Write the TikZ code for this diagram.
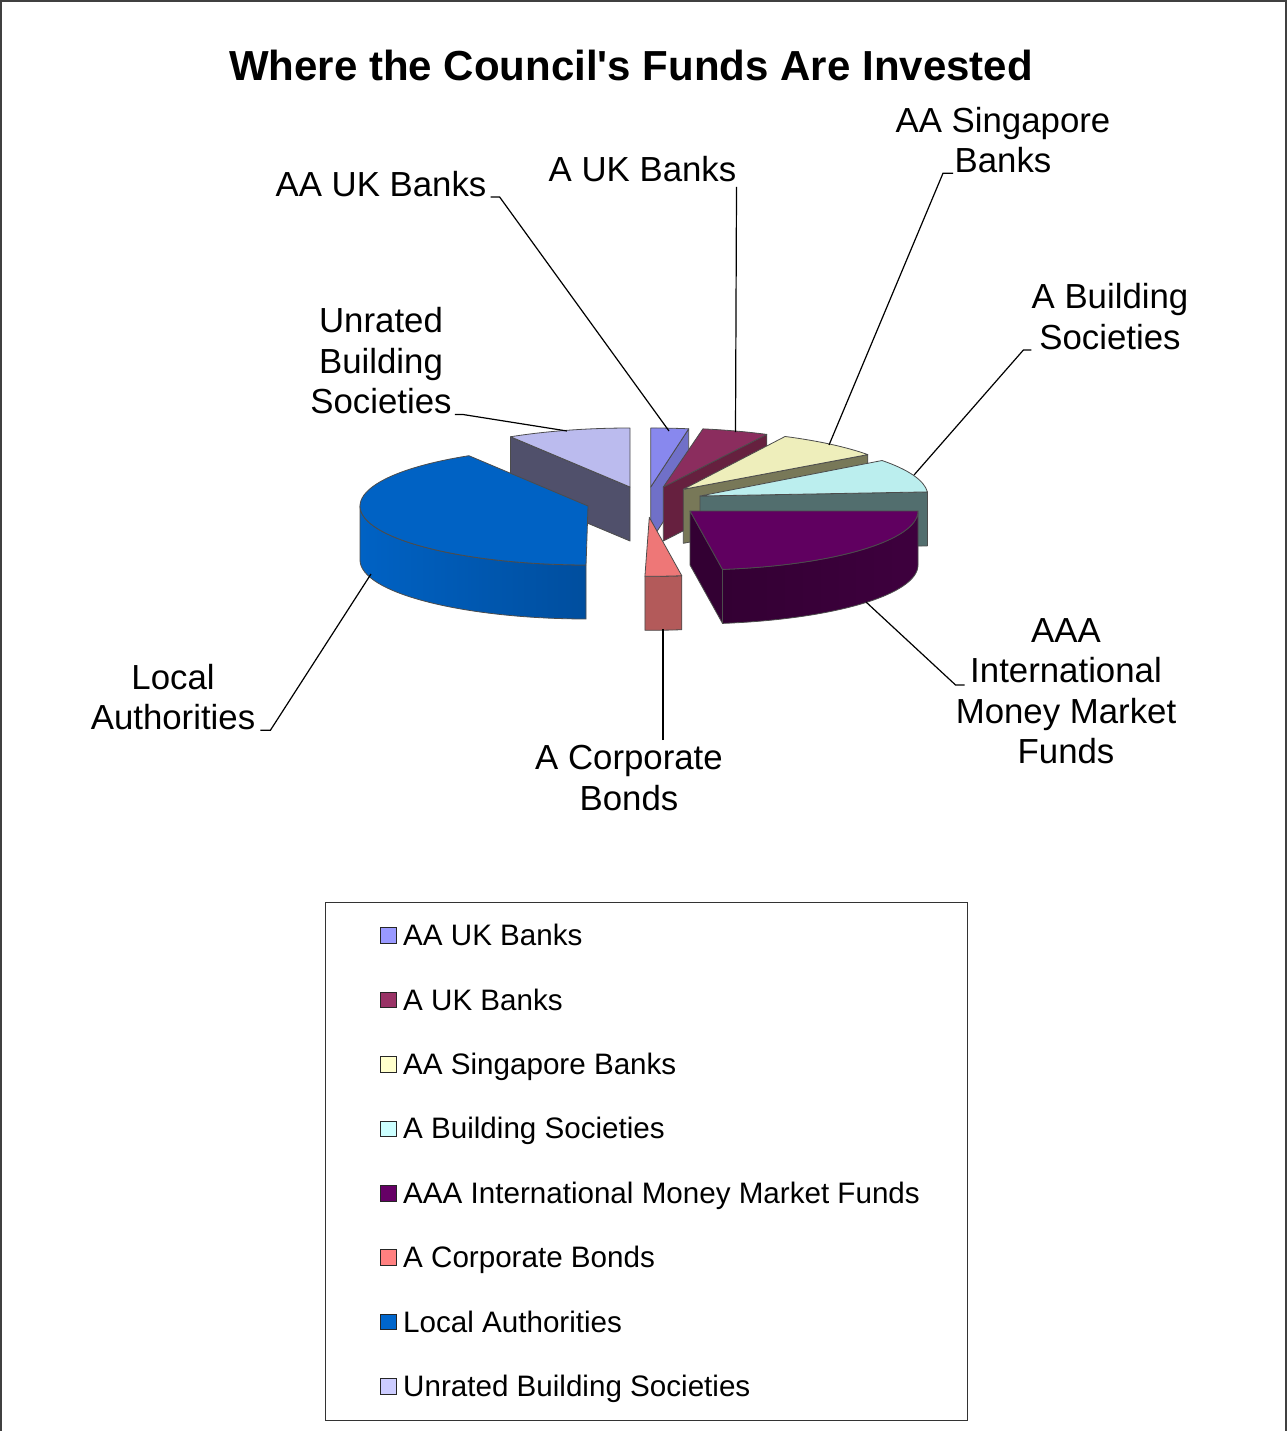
\documentclass[tikz,border=0pt]{standalone}
\usepackage{fontspec}
\setmainfont{Liberation Sans}[Ligatures=TeXOff]
\definecolor{u1}{HTML}{BBBBEE}\definecolor{u2}{HTML}{50506B}
\definecolor{p1}{HTML}{8888EE}\definecolor{p2}{HTML}{7070C8}
\definecolor{m1}{HTML}{8B2D5E}\definecolor{m2}{HTML}{66203F}
\definecolor{y1}{HTML}{EEEEBB}\definecolor{y2}{HTML}{787858}
\definecolor{c1}{HTML}{BBEEEE}\definecolor{c2}{HTML}{526E6E}
\definecolor{v1}{HTML}{600060}\definecolor{v2}{HTML}{330033}\definecolor{v3}{HTML}{3E003E}
\definecolor{k1}{HTML}{EE7777}\definecolor{k2}{HTML}{B35A5A}
\definecolor{b1}{HTML}{0062C4}\definecolor{b2}{HTML}{004E9E}
\begin{document}
\begin{tikzpicture}[x=1pt, y=1pt,
  lbl/.style = {align=center, inner sep=0pt, font=\fontsize{34.8}{40.5}\selectfont},
  key/.style = {anchor=base west, inner sep=0pt, font=\fontsize{29.6}{34}\selectfont},
  swatch/.style = {draw=black!85, line width=0.9pt, minimum size=15.5pt, inner sep=0pt},
  face/.style = {draw=black!70, line width=0.8pt, line join=round},
  lead/.style = {draw=black, line width=1.2pt},
  rim/.style = {x radius=228, y radius=59}]
\useasboundingbox (0,0) rectangle (1287,-1431);
\draw[black!75, line width=2pt] (1,-1431) -- (1,-1) -- (1286,-1) -- (1286,-1431);

\node[anchor=base, inner sep=0pt, font=\bfseries\fontsize{42}{48}\selectfont] (t) at (631,-81) {Where the Council's Funds Are Invested};

\filldraw[face, fill=u2] (630,-487) -- (510.5,-436.8) -- (510.5,-490.8) -- (630,-541) -- cycle;
\filldraw[face, fill=u1] (630,-487) -- (630,-428) arc[rim, start angle=90, end angle=121.6] -- cycle;

\filldraw[face, fill=p2] (650.7,-487) -- (688.7,-428.8) -- (688.7,-482.8) -- (650.7,-541) -- cycle;
\filldraw[face, fill=p1] (650.7,-487) -- (688.7,-428.8) arc[rim, start angle=80.4, end angle=90] -- cycle;

\filldraw[face, fill=m2] (663.3,-487) -- (766.8,-434.4) -- (766.8,-488.4) -- (663.3,-541) -- cycle;
\filldraw[face, fill=m1] (663.3,-487) -- (766.8,-434.4) arc[rim, start angle=63, end angle=80] -- cycle;

\filldraw[face, fill=y2] (683.3,-489.3) -- (867.8,-454.6) -- (867.8,-508.6) -- (683.3,-543.3) -- cycle;
\filldraw[face, fill=y1] (683.3,-489.3) -- (867.8,-454.6) arc[rim, start angle=36, end angle=63.5] -- cycle;

\filldraw[face, fill=c2] (700,-496) -- (927.4,-491.9) -- (927.4,-545.9) -- (700,-550) -- cycle;
\filldraw[face, fill=c1] (700,-496) -- (927.4,-491.9) arc[rim, start angle=4, end angle=37] -- cycle;

\filldraw[face, fill=v2] (690,-511) -- (722.5,-569.4) -- (722.5,-623.4) -- (690,-565) -- cycle;
\draw[face, left color=v2, right color=v3] (722.5,-569.4) arc[rim, start angle=-81.8, end angle=0] -- (918,-565) arc[rim, start angle=0, end angle=-81.8] -- cycle;
\filldraw[face, fill=v1] (690,-511) -- (722.5,-569.4) arc[rim, start angle=-81.8, end angle=0] -- cycle;

\filldraw[face, fill=k2] (644.9,-576.3) arc[rim, start angle=-91.1, end angle=-81.8] -- ++(0,-54) arc[rim, start angle=-81.8, end angle=-91.1] -- cycle;
\filldraw[face, fill=k1] (649.3,-517.3) -- (644.9,-576.3) arc[rim, start angle=-91.1, end angle=-81.8] -- cycle;

\draw[face, left color=b1, right color=b2] (360,-506) arc[rim, start angle=180, end angle=269.5] -- ++(0,-54) arc[rim, start angle=269.5, end angle=180] -- cycle;
\filldraw[face, fill=b1] (588,-506) -- (468.9,-455.7) arc[rim, start angle=121.5, end angle=269.5] -- cycle;

\coordinate (a1) at (669,-431);
\coordinate (a2) at (735.5,-432);
\coordinate (a3) at (829,-445);
\coordinate (a4) at (914,-475);
\coordinate (a5) at (866,-602);
\coordinate (a6) at (663,-629);
\coordinate (a7) at (371,-574);
\coordinate (a8) at (567,-431);

\node[lbl] (1) at (381,-184) {AA UK Banks};
\node[lbl] (2) at (642.5,-169) {A UK Banks};
\node[lbl] (3) at (1003,-140) {AA Singapore\\Banks};
\node[lbl] (4) at (1110,-316.7) {A Building\\Societies};
\node[lbl] (5) at (1066,-691) {AAA\\International\\Money Market\\Funds};
\node[lbl] (6) at (629,-778) {A Corporate\\Bonds};
\node[lbl] (7) at (173,-697) {Local\\Authorities};
\node[lbl] (8) at (381,-361) {Unrated\\Building\\Societies};

\draw[lead] ([xshift=4pt]1.south east) -- ++(9,0) -- (a1);
\draw[lead] ([yshift=-5pt]2.south east) -- (a2);
\draw[lead] (a3) -- ([xshift=-60pt]3.south) -- ++(10,0);
\draw[lead] (a4) -- ([xshift=-8pt]4.south west) -- (4.south west);
\draw[lead] (a5) -- ([yshift=6pt]5.west) -- ++(9,0);
\draw[lead] ([xshift=34pt, yshift=5pt]6.north) -- (a6);
\draw[lead] ([xshift=5pt]7.south east) -- ++(10,0) -- (a7);
\draw[lead] ([xshift=3pt]8.south east) -- ++(8,0) -- (a8);

\draw[black!80, line width=1pt] (325,-902) rectangle (967,-1420);
\node[swatch, fill={rgb,255:red,153;green,153;blue,255}] (k1) at (388.3,-935.6) {};
\node[swatch, fill={rgb,255:red,153;green,51;blue,102}] (k2) at (388.3,-1000) {};
\node[swatch, fill={rgb,255:red,255;green,255;blue,204}] (k3) at (388.3,-1064.4) {};
\node[swatch, fill={rgb,255:red,204;green,255;blue,255}] (k4) at (388.3,-1128.8) {};
\node[swatch, fill={rgb,255:red,102;green,0;blue,102}] (k5) at (388.3,-1193.2) {};
\node[swatch, fill={rgb,255:red,255;green,128;blue,128}] (k6) at (388.3,-1257.6) {};
\node[swatch, fill={rgb,255:red,0;green,102;blue,204}] (k7) at (388.3,-1322) {};
\node[swatch, fill={rgb,255:red,204;green,204;blue,255}] (k8) at (388.3,-1386.4) {};
\node[key] (e1) at (403,-945.6) {AA UK Banks};
\node[key] (e2) at (403,-1010) {A UK Banks};
\node[key] (e3) at (403,-1074.4) {AA Singapore Banks};
\node[key] (e4) at (403,-1138.8) {A Building Societies};
\node[key] (e5) at (403,-1203.2) {AAA International Money Market Funds};
\node[key] (e6) at (403,-1267.6) {A Corporate Bonds};
\node[key] (e7) at (403,-1332) {Local Authorities};
\node[key] (e8) at (403,-1396.4) {Unrated Building Societies};
\end{tikzpicture}
\end{document}
